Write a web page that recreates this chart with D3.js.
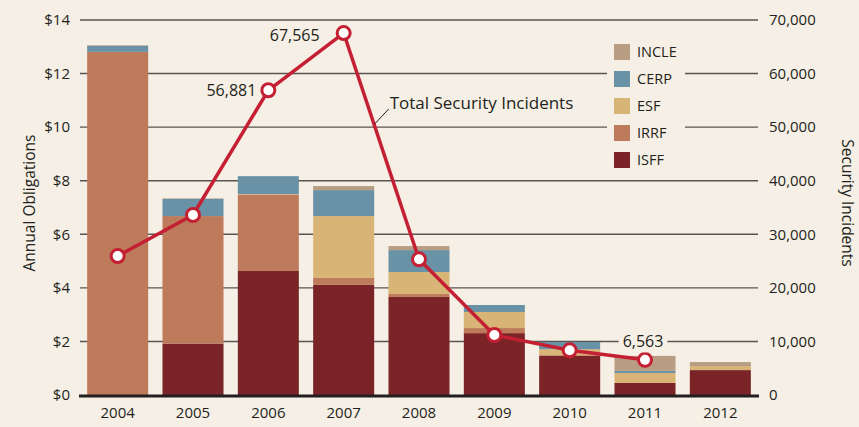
<!DOCTYPE html>
<html>
<head>
<meta charset="utf-8">
<script src="https://cdn.jsdelivr.net/npm/d3@7"></script>
<style>
  body { margin: 0; background: #f6efe5; }
  svg { display: block; font-family: "Open Sans", "Noto Sans", sans-serif; }
</style>
</head>
<body>
<svg width="859" height="427" id="mainsvg"></svg>
<script>
// data ($ billions, incidents)
const years = ['2004', '2005', '2006', '2007', '2008', '2009', '2010', '2011', '2012'];
const isff  = [0, 1.92, 4.63, 4.11, 3.66, 2.31, 1.46, 0.45, 0.93];
const irrf  = [12.81, 4.76, 2.84, 0.26, 0.11, 0.19, 0.03, 0, 0];
const esf   = [0, 0, 0.03, 2.31, 0.82, 0.60, 0.22, 0.37, 0.15];
const cerp  = [0.23, 0.64, 0.67, 0.97, 0.82, 0.26, 0.27, 0.08, 0];
const incle = [0.02, 0.02, 0, 0.15, 0.15, 0, 0, 0.56, 0.15];
const incidents = [25950, 33600, 56881, 67565, 25330, 11200, 8340, 6563];
const leftTicks = [0, 2, 4, 6, 8, 10, 12, 14];
const rightTicks = [0, 10000, 20000, 30000, 40000, 50000, 60000, 70000];

const seriesNames = ['ISFF', 'IRRF', 'ESF', 'CERP', 'INCLE'];
const seriesVals = [isff, irrf, esf, cerp, incle];
const colors = ['#7b2427', '#bd7b5b', '#d8b576', '#6992a6', '#b99d83'];

const svg = d3.select('svg');
const margin = { top: 20, right: 101, bottom: 32, left: 80 };
const innerWidth = 859 - margin.left - margin.right;
const innerHeight = 427 - margin.top - margin.bottom;
const g = svg.append('g').attr('transform', `translate(${margin.left}, ${margin.top})`);

const xScale = d3.scaleBand().domain(years).range([0, innerWidth])
    .paddingInner(0.19).paddingOuter(0.095);
const yLeft = d3.scaleLinear().domain([0, 14]).range([innerHeight, 0]);
const yRight = d3.scaleLinear().domain([0, 70000]).range([innerHeight, 0]);

// gridlines
g.append('g').selectAll('line').data(leftTicks.slice(1)).join('line')
    .attr('x1', 0).attr('x2', innerWidth)
    .attr('y1', d => yLeft(d)).attr('y2', d => yLeft(d))
    .attr('stroke', '#5a5352').attr('stroke-width', 1.4);

// stacked bars
const table = years.map((y, i) => {
    const row = { year: y };
    seriesNames.forEach((s, j) => row[s] = seriesVals[j][i]);
    return row;
});
const stacked = d3.stack().keys(seriesNames)(table);
g.append('g').selectAll('g').data(stacked).join('g')
    .attr('fill', (d, i) => colors[i])
    .selectAll('rect').data(d => d).join('rect')
    .attr('x', d => xScale(d.data.year))
    .attr('width', xScale.bandwidth())
    .attr('y', d => yLeft(d[1]))
    .attr('height', d => yLeft(d[0]) - yLeft(d[1]));

// baseline
g.append('line').attr('x1', -1).attr('x2', innerWidth + 1)
    .attr('y1', innerHeight + 1).attr('y2', innerHeight + 1)
    .attr('stroke', '#231f20').attr('stroke-width', 3);

// axes
const leftAxis = g.append('g').call(d3.axisLeft(yLeft).tickValues(leftTicks)
    .tickFormat(d => '$' + d).tickSize(0).tickPadding(10));
const rightAxis = g.append('g').attr('transform', `translate(${innerWidth}, 0)`)
    .call(d3.axisRight(yRight).tickValues(rightTicks)
    .tickFormat(d3.format(',')).tickSize(0).tickPadding(11));
const bottomAxis = g.append('g').attr('transform', `translate(0, ${innerHeight})`)
    .call(d3.axisBottom(xScale).tickSize(0).tickPadding(12));
[leftAxis, rightAxis, bottomAxis].forEach(a => {
    a.select('.domain').remove();
    a.selectAll('text').attr('font-size', 15).attr('fill', '#231f20')
        .attr('font-family', '"Open Sans", sans-serif');
});

// axis titles
svg.append('text').text('Annual Obligations')
    .attr('transform', 'translate(30, 203) rotate(-90)').attr('dy', '0.35em')
    .attr('text-anchor', 'middle').attr('font-size', 15.5).attr('fill', '#231f20');
svg.append('text').text('Security Incidents')
    .attr('transform', 'translate(847, 203) rotate(90)').attr('dy', '0.35em')
    .attr('text-anchor', 'middle').attr('font-size', 15.5).attr('fill', '#231f20');

// legend with background that breaks gridlines
const legend = g.append('g').attr('transform', `translate(${527}, 0)`);
legend.append('rect').attr('x', 0).attr('y', 16).attr('width', 78).attr('height', 138)
    .attr('fill', '#f6efe5');
const legendItems = seriesNames.slice().reverse();
legendItems.forEach((s, i) => {
    const c = colors[seriesNames.indexOf(s)];
    legend.append('rect').attr('x', 7).attr('y', 24 + i * 27).attr('width', 16).attr('height', 16)
        .attr('fill', c);
    legend.append('text').attr('x', 30).attr('y', 32 + i * 27).attr('dy', '0.35em')
        .attr('font-size', 14.5).attr('fill', '#231f20').text(s);
});

// incidents line
const cx = i => xScale(years[i]) + xScale.bandwidth() / 2;
const line = d3.line().x((d, i) => cx(i)).y(d => yRight(d));
g.append('path').datum(incidents).attr('d', line)
    .attr('fill', 'none').attr('stroke', '#c41f33').attr('stroke-width', 3.5)
    .attr('stroke-linejoin', 'round');

// annotation for line
g.append('line').attr('x1', cx(3) + 31).attr('y1', 104).attr('x2', cx(3) + 45).attr('y2', 89)
    .attr('stroke', '#231f20').attr('stroke-width', 1);
g.append('text').attr('x', cx(3) + 46).attr('y', 83).attr('dy', '0.35em')
    .attr('font-size', 17).attr('fill', '#231f20').text('Total Security Incidents');

g.selectAll('circle').data(incidents).join('circle')
    .attr('cx', (d, i) => cx(i)).attr('cy', d => yRight(d)).attr('r', 6.5)
    .attr('fill', '#ffffff').attr('stroke', '#c41f33').attr('stroke-width', 3);

// value labels
const lbl = (i, dx, dy, anchor, bg) => {
    const t = g.append('text').attr('x', cx(i) + dx).attr('y', yRight(incidents[i]) + dy)
        .attr('dy', '0.35em').attr('text-anchor', anchor)
        .attr('font-size', 16).attr('fill', '#231f20').text(d3.format(',')(incidents[i]));
    if (bg) {
        const b = t.node().getBBox();
        g.insert('rect', () => t.node()).attr('x', b.x - 4).attr('y', b.y).attr('width', b.width + 8)
            .attr('height', b.height).attr('fill', '#f6efe5');
    }
};
lbl(2, -12, 0, 'end');
lbl(3, -24, 2, 'end');
lbl(7, -2, -18, 'middle', true);
</script>
</body>
</html>
